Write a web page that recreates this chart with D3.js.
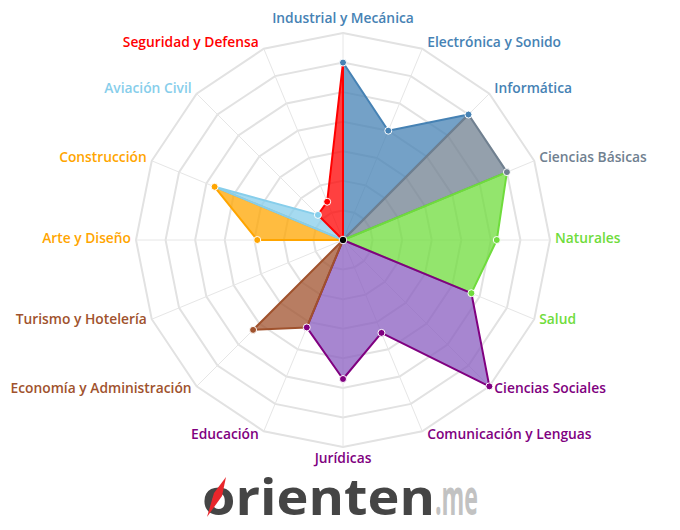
<!DOCTYPE html>
<html><head><meta charset="utf-8">
<script src="https://cdn.jsdelivr.net/npm/d3@7"></script>
<style>body{margin:0;background:#fff}svg{display:block}</style>
</head><body>
<svg id="chart" width="680" height="530"></svg>
<script>
const categories = ["Industrial y Mecánica","Electrónica y Sonido","Informática","Ciencias Básicas","Naturales","Salud","Ciencias Sociales","Comunicación y Lenguas","Jurídicas","Educación","Economía y Administración","Turismo y Hotelería","Arte y Diseño","Construcción","Aviación Civil","Seguridad y Defensa"];
const values = [6.0, 4.0, 6.0, 6.0, 5.2, 4.7, 7.0, 3.4, 4.7, 3.2, 4.3, 0, 2.9, 4.7, 1.2, 1.4];
const categoryGroup = [0,0,0,1,2,2,3,3,3,3,4,4,5,5,6,7];
const groupColors = ["#4682b4","#708090","#6fdc3c","#800080","#a0522d","#ffa500","#87ceeb","#ff0000"];
const groupFills = ["#4682b4","#708090","#6fdc3c","#8a5ec0","#a0522d","#ffa500","#87ceeb","#ff0000"];
const gridLevels = [1,2,3,4,5,6,7];
const maxValue = 7;

const svg = d3.select("#chart");
const cx = 343, cy = 240, R = 207;
const n = categories.length;
const angle = d3.scaleLinear().domain([0, n]).range([0, 2*Math.PI]);
const r = d3.scaleLinear().domain([0, maxValue]).range([0, R]);
const pt = (i, v) => [cx + r(v)*Math.sin(angle(i)), cy - r(v)*Math.cos(angle(i))];

const g = svg.append("g");
// rings
g.selectAll("polygon.ring").data(gridLevels).join("polygon")
  .attr("class","ring")
  .attr("points", lv => d3.range(n).map(i => pt(i, lv).join(",")).join(" "))
  .attr("fill","none").attr("stroke","#e2e2e2").attr("stroke-width",2);
// spokes
g.selectAll("line.spoke").data(d3.range(n)).join("line")
  .attr("x1",cx).attr("y1",cy)
  .attr("x2",i=>pt(i,maxValue)[0]).attr("y2",i=>pt(i,maxValue)[1])
  .attr("stroke","#e6e6e6").attr("stroke-width",1);

// series
const nGroups = groupColors.length;
const series = d3.range(nGroups).map(gi => {
  const own = d3.range(n).filter(i => categoryGroup[i] === gi);
  let idx = own.slice();
  if (gi > 0) idx.unshift(own[0]-1);
  if (gi === nGroups-1) idx.push(0);
  return {gi, own, idx};
});
const line = d3.line();
series.forEach(s => {
  const pts = s.idx.map(i => pt(i % n, values[i % n]));
  g.append("path")
    .attr("d", line([[cx,cy], ...pts]) + "Z")
    .attr("fill", groupFills[s.gi]).attr("fill-opacity",0.75).attr("stroke","none");
  g.append("path")
    .attr("d", line([[cx,cy], ...pts, [cx,cy]]))
    .attr("fill","none").attr("stroke", groupColors[s.gi]).attr("stroke-width",2)
    .attr("stroke-linejoin","round");
});
// markers
g.selectAll("circle.mk").data(d3.range(n).filter(i => values[i] > 0)).join("circle")
  .attr("class","mk")
  .attr("cx", i => pt(i, values[i])[0]).attr("cy", i => pt(i, values[i])[1])
  .attr("r",3.5).attr("fill", i => groupColors[categoryGroup[i]])
  .attr("stroke","#fff").attr("stroke-width",1);
g.append("circle").attr("cx",cx).attr("cy",cy).attr("r",3.8)
  .attr("fill","#000").attr("stroke","#fff").attr("stroke-width",1);

// labels
g.selectAll("text.lab").data(d3.range(n)).join("text")
  .attr("class","lab")
  .attr("x", i => {
    const [x] = pt(i, maxValue); const s = Math.sin(angle(i));
    return Math.abs(s) < 0.01 ? x : x + (s > 0 ? 5 : -5);
  })
  .attr("y", i => {
    const [, y] = pt(i, maxValue); const c = Math.cos(angle(i));
    if (c > 0.99) return y - 15;
    if (c < -0.99) return y + 11;
    return y - 2 - 5*c;
  })
  .attr("dy","0.35em")
  .attr("text-anchor", i => { const s = Math.sin(angle(i)); return Math.abs(s) < 0.01 ? "middle" : (s > 0 ? "start" : "end"); })
  .attr("font-family","'Open Sans', sans-serif").attr("font-size",13.8).attr("font-weight",600)
  .attr("fill", i => groupColors[categoryGroup[i]])
  .text(i => categories[i]);

// logo
const logo = svg.append("g");
logo.append("text").attr("x",202).attr("y",515)
  .attr("font-family","'Open Sans', sans-serif").attr("font-weight",700).attr("font-size",50)
  .attr("fill","#454545").attr("textLength",233).attr("lengthAdjust","spacingAndGlyphs")
  .text("orienten");
logo.append("text").attr("x",435).attr("y",515)
  .attr("font-family","'Open Sans', sans-serif").attr("font-weight",700).attr("font-size",50)
  .attr("fill","#c2c2c2").attr("textLength",43).attr("lengthAdjust","spacingAndGlyphs")
  .text(".me");
logo.append("path").attr("d","M207,517 L222,496 L226,477 L214,493 Z").attr("fill","#e8262b");
</script>
</body></html>
